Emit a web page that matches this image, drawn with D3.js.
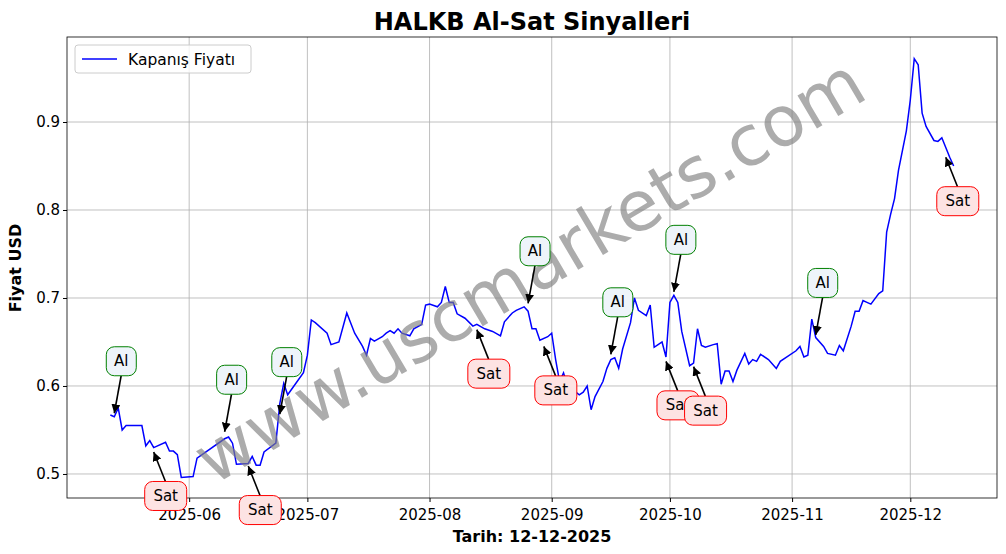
<!DOCTYPE html>
<html><head><meta charset="utf-8">
<script src="https://cdn.jsdelivr.net/npm/d3@7"></script>
<style>body{margin:0;background:#fff;font-family:"DejaVu Sans",sans-serif}</style>
</head><body><svg id="c" width="1006" height="554"></svg>
<script>
const dates=["2025-05-12","2025-05-13","2025-05-14","2025-05-15","2025-05-16","2025-05-20","2025-05-21","2025-05-22","2025-05-23","2025-05-26","2025-05-27","2025-05-28","2025-05-29","2025-05-30","2025-06-02","2025-06-03","2025-06-10","2025-06-11","2025-06-12","2025-06-13","2025-06-16","2025-06-17","2025-06-18","2025-06-19","2025-06-20","2025-06-23","2025-06-24","2025-06-25","2025-06-26","2025-06-30","2025-07-01","2025-07-02","2025-07-03","2025-07-06","2025-07-07","2025-07-09","2025-07-11","2025-07-13","2025-07-15","2025-07-16","2025-07-17","2025-07-18","2025-07-20","2025-07-21","2025-07-22","2025-07-23","2025-07-24","2025-07-25","2025-07-27","2025-07-28","2025-07-30","2025-07-31","2025-08-01","2025-08-03","2025-08-04","2025-08-05","2025-08-06","2025-08-07","2025-08-08","2025-08-10","2025-08-12","2025-08-13","2025-08-15","2025-08-17","2025-08-19","2025-08-20","2025-08-22","2025-08-23","2025-08-25","2025-08-26","2025-08-27","2025-08-28","2025-08-29","2025-08-31","2025-09-01","2025-09-02","2025-09-03","2025-09-04","2025-09-05","2025-09-06","2025-09-08","2025-09-09","2025-09-10","2025-09-11","2025-09-12","2025-09-14","2025-09-15","2025-09-16","2025-09-17","2025-09-18","2025-09-19","2025-09-21","2025-09-22","2025-09-23","2025-09-25","2025-09-26","2025-09-27","2025-09-28","2025-09-29","2025-09-30","2025-10-01","2025-10-02","2025-10-03","2025-10-04","2025-10-06","2025-10-07","2025-10-08","2025-10-09","2025-10-10","2025-10-12","2025-10-13","2025-10-14","2025-10-15","2025-10-16","2025-10-17","2025-10-18","2025-10-20","2025-10-21","2025-10-22","2025-10-23","2025-10-24","2025-10-26","2025-10-27","2025-10-28","2025-10-29","2025-11-02","2025-11-03","2025-11-04","2025-11-05","2025-11-06","2025-11-07","2025-11-09","2025-11-10","2025-11-12","2025-11-13","2025-11-14","2025-11-16","2025-11-17","2025-11-18","2025-11-19","2025-11-20","2025-11-21","2025-11-23","2025-11-24","2025-11-25","2025-11-26","2025-11-27","2025-11-28","2025-11-30","2025-12-01","2025-12-02","2025-12-03","2025-12-04","2025-12-05","2025-12-07","2025-12-08","2025-12-09","2025-12-11","2025-12-12"];
const prices=[.567,.565,.575,.550,.555,.555,.532,.538,.530,.536,.526,.526,.522,.496,.497,.518,.540,.542,.535,.511,.512,.520,.510,.510,.525,.535,.580,.603,.590,.615,.635,.675,.672,.660,.647,.650,.683,.660,.645,.635,.654,.651,.656,.660,.663,.660,.665,.660,.657,.665,.670,.692,.693,.690,.695,.713,.695,.695,.682,.677,.668,.670,.665,.662,.657,.673,.683,.686,.690,.685,.665,.665,.652,.656,.660,.630,.605,.615,.600,.597,.590,.593,.600,.573,.588,.605,.620,.630,.632,.620,.642,.672,.700,.686,.680,.692,.644,.647,.650,.633,.695,.703,.695,.662,.623,.626,.665,.646,.644,.647,.648,.602,.617,.617,.605,.618,.637,.625,.630,.628,.636,.630,.625,.620,.628,.640,.645,.633,.635,.676,.655,.645,.637,.635,.646,.640,.668,.685,.685,.697,.695,.693,.705,.708,.775,.795,.813,.845,.890,.925,.972,.965,.910,.895,.879,.878,.882,.860,.850];
const sigDates=["2025-05-13","2025-05-23","2025-06-10","2025-06-16","2025-06-24","2025-08-13","2025-08-26","2025-08-30","2025-09-16","2025-09-30","2025-10-07","2025-10-02","2025-11-07","2025-12-10"];
const sigValues=[.569,.525,.548,.509,.568,.664,.694,.645,.636,.628,.622,.707,.658,.860];
const sigTypes=["Al","Sat","Al","Sat","Al","Sat","Al","Sat","Al","Sat","Sat","Al","Al","Sat"];
const yTicks=[0.5,0.6,0.7,0.8,0.9];
const xTickLabels=["2025-06","2025-07","2025-08","2025-09","2025-10","2025-11","2025-12"];

const P=d3.timeParse("%Y-%m-%d"), M=d3.timeParse("%Y-%m");
const svg=d3.select("#c");
const L=67,R=997,T=37,B=498;
const x=d3.scaleTime().domain([P("2025-05-01"),P("2025-12-23")]).range([L,R]);
const y=d3.scaleLinear().domain([0.4727,0.9966]).range([B,T]);
svg.append("g").selectAll("line").data(xTickLabels).join("line")
 .attr("x1",d=>x(M(d))).attr("x2",d=>x(M(d))).attr("y1",T).attr("y2",B).attr("stroke","#b0b0b0").attr("stroke-width",0.8);
svg.append("g").selectAll("line").data(yTicks).join("line")
 .attr("y1",d=>y(d)).attr("y2",d=>y(d)).attr("x1",L).attr("x2",R).attr("stroke","#b0b0b0").attr("stroke-width",0.8);
const xa=svg.append("g").attr("transform",`translate(0,${B})`).call(d3.axisBottom(x).tickValues(xTickLabels.map(M)).tickFormat(d3.timeFormat("%Y-%m")).tickSizeOuter(0).tickSize(4));
const ya=svg.append("g").attr("transform",`translate(${L},0)`).call(d3.axisLeft(y).tickValues(yTicks).tickFormat(d3.format(".1f")).tickSizeOuter(0).tickSize(4));
[xa,ya].forEach(a=>{a.selectAll("text").attr("font-size",15).attr("fill","#000").attr("font-family","DejaVu Sans");a.select(".domain").remove();});
xa.selectAll("text").attr("dy","1.0em");
svg.append("rect").attr("x",L).attr("y",T).attr("width",R-L).attr("height",B-T).attr("fill","none").attr("stroke","#000").attr("stroke-width",0.8);
const data=dates.map((d,i)=>({d:P(d),v:prices[i]}));
svg.append("path").datum(data).attr("fill","none").attr("stroke","blue").attr("stroke-width",1.5)
 .attr("d",d3.line().x(d=>x(d.d)).y(d=>y(d.v)));
svg.append("text").attr("x",532).attr("y",275).attr("text-anchor","middle").attr("dominant-baseline","middle")
 .attr("transform","rotate(-30.6,532,275)").attr("font-size",70).attr("fill","#808080").attr("opacity",0.65).text("www.uscmarkets.com");
svg.append("defs").append("marker").attr("id","ah").attr("viewBox","0 0 10 10").attr("refX",10).attr("refY",5)
 .attr("markerWidth",9).attr("markerHeight",9).attr("markerUnits","userSpaceOnUse").attr("orient","auto")
 .append("path").attr("d","M0,0L10,5L0,10z").attr("fill","#000");
sigDates.forEach((sd,i)=>{
 const tx=x(P(sd)),ty=y(sigValues[i]);
 const al=sigTypes[i]==="Al";
 const lx=tx+(al?7:12), ly=ty+(al?-52:44);
 const w=al?30:42,h=29;
 const sy=al?ly+h/2:ly-h/2;
 svg.append("line").attr("x1",lx-(lx-tx)*0.02).attr("y1",sy).attr("x2",tx).attr("y2",ty)
  .attr("stroke","#000").attr("stroke-width",1.6).attr("marker-end","url(#ah)");
 svg.append("rect").attr("x",lx-w/2).attr("y",ly-h/2).attr("width",w).attr("height",h).attr("rx",8)
  .attr("fill",al?"#eef4fa":"#fde3e3").attr("stroke",al?"green":"red").attr("stroke-width",1);
 svg.append("text").attr("x",lx).attr("y",ly).attr("text-anchor","middle").attr("dominant-baseline","central")
  .attr("font-size",15).text(sigTypes[i]);
});
svg.append("text").attr("x",532).attr("y",30).attr("text-anchor","middle").attr("font-size",24).attr("font-weight","bold").text("HALKB Al-Sat Sinyalleri");
svg.append("text").attr("x",532).attr("y",542).attr("text-anchor","middle").attr("font-size",16).attr("font-weight","bold").text("Tarih: 12-12-2025");
svg.append("text").attr("transform","translate(21,268) rotate(-90)").attr("text-anchor","middle").attr("font-size",16).attr("font-weight","bold").text("Fiyat USD");
svg.append("rect").attr("x",75).attr("y",45).attr("width",176).attr("height",28).attr("rx",3).attr("fill","#fff").attr("fill-opacity",0.8).attr("stroke","#ccc");
svg.append("line").attr("x1",82).attr("x2",117).attr("y1",59).attr("y2",59).attr("stroke","blue").attr("stroke-width",1.5);
svg.append("text").attr("x",128).attr("y",64.5).attr("font-size",15.5).text("Kapanış Fiyatı");
</script></body></html>
